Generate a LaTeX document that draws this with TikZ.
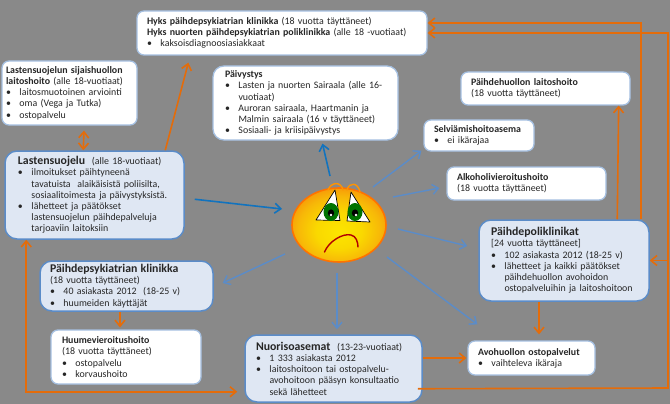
\documentclass[tikz,border=0pt]{standalone}
\usepackage{fontspec}
\setmainfont{Carlito}
\usetikzlibrary{arrows.meta,shapes.geometric,calc}
\definecolor{bgc}{HTML}{898989}
\definecolor{oran}{HTML}{E46C0A}
\definecolor{blu}{HTML}{5B8CC8}
\definecolor{dblu}{HTML}{1273BE}
\definecolor{lbl}{HTML}{DFE7F3}
\definecolor{tx}{HTML}{262626}
\pgfdeclareradialshading{smil}{\pgfpoint{0bp}{-5bp}}{%
  rgb(0bp)=(0.99,0.90,0);
  rgb(12bp)=(0.98,0.85,0);
  rgb(22bp)=(0.97,0.72,0.03);
  rgb(28bp)=(0.97,0.60,0.03);
  rgb(50bp)=(0.97,0.58,0.03)}
\newcommand{\blt}{\makebox[13.5pt][l]{•}}
\newcommand{\ind}{\hspace*{13.5pt}}
\newcommand{\ttl}[1]{{\fontsize{11.8}{11.2}\selectfont\textbf{#1}}}
\newcommand{\bx}[8]{%
  \pgfmathsetmacro{\cx}{(#2+#4)/2}\pgfmathsetmacro{\cy}{(#3+#5)/2}%
  \pgfmathsetmacro{\ww}{#4-#2}\pgfmathsetmacro{\hh}{#5-#3}%
  \node[#7,text width=\ww pt,inner xsep=0pt,minimum height=\hh pt,
    execute at begin node={\leftskip=#6pt\relax\rightskip=0pt plus 1fil\relax\parindent=0pt\relax}] (#1) at (\cx,\cy) {#8};}
\tikzset{
  base/.style={rectangle,rounded corners=7pt,inner ysep=0pt,text=tx,
    font=\fontsize{9.9}{11.2}\selectfont},
  wbox/.style={base,fill=white,draw=blu!55!white,line width=1.3pt},
  bbox/.style={base,fill=lbl,draw=blu,line width=1.5pt,rounded corners=12pt},
  oa/.style={draw=oran,line width=1.6pt,-{Straight Barb[length=6pt,width=10pt]}},
  oab/.style={draw=oran,line width=1.6pt,{Straight Barb[length=6pt,width=10pt]}-{Straight Barb[length=6pt,width=10pt]}},
  ba/.style={draw=blu,line width=1.4pt,-{Straight Barb[length=6pt,width=10pt]}},
  da/.style={draw=dblu,line width=1.6pt,-{Straight Barb[length=6pt,width=10pt]}},
}
\begin{document}
\begin{tikzpicture}[x=1pt,y=-1pt]
\useasboundingbox (0,0) rectangle (670,404);
\fill[bgc] (0,0) rectangle (670,404);

\bx{hyks}{137}{11}{427}{55}{10}{wbox}{\textbf{Hyks päihdepsykiatrian klinikka} (18 vuotta täyttäneet)\\\textbf{Hyks nuorten päihdepsykiatrian poliklinikka} (alle 18 -vuotiaat)\\\blt kaksoisdiagnoosiasiakkaat}
\bx{sij}{2}{61}{137}{125}{4}{wbox}{\textbf{Lastensuojelun sijaishuollon}\\\textbf{laitoshoito} (alle 18-vuotiaat)\\\blt laitosmuotoinen arviointi\\\blt oma (Vega ja Tutka)\\\blt ostopalvelu}
\bx{pai}{213}{66}{398}{140}{12}{wbox,rounded corners=11pt}{\textbf{Päivystys}\\\blt Lasten ja nuorten Sairaala (alle 16-\\\ind vuotiaat)\\\blt Auroran sairaala, Haartmanin ja\\\ind Malmin sairaala (16 v täyttäneet)\\\blt Sosiaali- ja kriisipäivystys}
\bx{lait}{461}{72}{630}{105}{10}{wbox}{\textbf{Päihdehuollon laitoshoito}\\(18 vuotta täyttäneet)}
\bx{selv}{424}{120}{534}{151}{10}{wbox}{\textbf{Selviämishoitoasema}\\\blt ei ikärajaa}
\bx{alko}{447}{167}{606}{200}{10}{wbox}{\textbf{Alkoholivieroitushoito}\\(18 vuotta täyttäneet)}
\bx{lsu}{5}{151}{184}{239}{13}{bbox}{\ttl{Lastensuojelu}\ \ (alle 18-vuotiaat)\\\blt ilmoitukset päihtyneenä\\\ind tavatuista\ \ alaikäisistä poliisilta,\\\ind sosiaalitoimesta ja päivystyksistä.\\\blt lähetteet ja päätökset\\\ind lastensuojelun päihdepalveluja\\\ind tarjoaviin laitoksiin}
\bx{psyk}{40}{261}{213}{311}{10}{bbox}{\ttl{Päihdepsykiatrian klinikka}\\(18 vuotta täyttäneet)\\\blt 40 asiakasta 2012\ \ (18-25 v)\\\blt huumeiden käyttäjät}
\bx{huume}{51}{330}{201}{384}{11}{wbox}{\textbf{Huumevieroitushoito}\\(18 vuotta täyttäneet)\\\blt ostopalvelu\\\blt korvaushoito}
\bx{nuo}{245}{335}{422}{402}{11}{bbox}{\ttl{Nuorisoasemat}\ \ (13-23-vuotiaat)\\\blt 1 333 asiakasta 2012\\\blt laitoshoitoon tai ostopalvelu-\\\ind avohoitoon pääsyn konsultaatio\\\ind sekä lähetteet}
\bx{avo}{468}{341}{595}{375}{10}{wbox}{\textbf{Avohuollon ostopalvelut}\\\blt vaihteleva ikäraja}
\bx{poli}{479}{220}{649}{301}{12}{bbox}{\ttl{Päihdepoliklinikat}\\{[}24 vuotta täyttäneet{]}\\\blt 102 asiakasta 2012 (18-25 v)\\\blt lähetteet ja kaikki päätökset\\\ind päihdehuollon avohoidon\\\ind ostopalveluihin ja laitoshoitoon}

% smiley
\node[ellipse,minimum width=94pt,minimum height=74pt,inner sep=0pt,draw=orange!90!red,line width=1.6pt,
  shading=smil] (smiley) at (339,225) {};
% brows
\draw[orange!85!yellow,line width=1.4pt,line cap=round] (328,190) .. controls (331,182) and (341,181) .. (343,190);
\draw[orange!85!yellow,line width=1.4pt,line cap=round] (347,190) .. controls (349,182) and (358,182) .. (360,192);
% eyes
\filldraw[fill=white,draw=black,line width=.7pt,line join=round] (335,190) -- (316,220) -- (340,220.5) -- cycle;
\filldraw[fill=white,draw=black,line width=.7pt,line join=round] (351,192) -- (370,222) -- (347,221) -- cycle;
\fill[green!45!black] (331,212) ellipse (7.5 and 9);
\fill[green!45!black] (355,212) ellipse (7.5 and 9);
\fill[black] (331,213) ellipse (3.2 and 3.6);
\fill[black] (355,213) ellipse (3.2 and 3.6);
\fill[white] (331,215) circle (1.3);
\fill[white] (356,215) circle (1.3);
% mouth
\draw[red!70!black,line width=1.4pt,line cap=round] (324.5,252) .. controls (329,241) and (343,233) .. (351,235) .. controls (356,236) and (358,242) .. (358,247);

% orange connectors
\draw[oab] ([shift={(14.5,5)}]sij.south) -- ([xshift=79pt]lsu.north west);
\draw[oa] ([xshift=161pt]lsu.north west) -- ([shift={(52,7)}]hyks.south west);
\draw[oa] ([xshift=163pt]poli.north west) |- ([yshift=10pt]hyks.east);
\draw[oa] ([xshift=139pt]poli.north west) -- ([xshift=-12pt]lait.south east);
\coordinate (rr) at (668,388);
\draw[oa] ([shift={(-5,-14)}]nuo.south east) -- (rr) |- (hyks.east);
\draw[oa] (rr |- poli.east) -- (poli.east);
\draw[oab] ([xshift=22pt]lsu.south west) |- ([shift={(-7,-11)}]nuo.south west);
\draw[oa] ([xshift=-6.5pt]psyk.south) -- ([shift={(-6,-2)}]huume.north);
\draw[oa] ([yshift=10.5pt]nuo.east) -- ([shift={(-1,0)}]avo.west);
\draw[oa] ([xshift=-25pt]poli.south) -- ([shift={(7.5,-6)}]avo.north);

% blue connectors
\draw[da] ([shift={(10,49)}]lsu.north east) -- ([shift={(-57,-16)}]smiley.center);
\draw[da] ([shift={(-9,-49)}]smiley.center) -- ([shift={(17,3)}]pai.south);
\draw[ba] ([shift={(34,-38)}]smiley.center) -- ([shift={(-2,-1)}]selv.south west);
\draw[ba] ([shift={(54,-28)}]smiley.center) -- ([shift={(-7,4.5)}]alko.west);
\draw[ba] ([shift={(59,4)}]smiley.center) -- ([shift={(-11,-14.5)}]poli.west);
\draw[ba] ([shift={(48,32)}]smiley.center) -- ([shift={(10,-16)}]avo.north west);
\draw[ba] ([shift={(-2,48)}]smiley.center) -- ([shift={(3.5,-5)}]nuo.north);
\draw[ba] ([shift={(-54,29)}]smiley.center) -- ([shift={(9,-3)}]psyk.east);
\end{tikzpicture}
\end{document}
